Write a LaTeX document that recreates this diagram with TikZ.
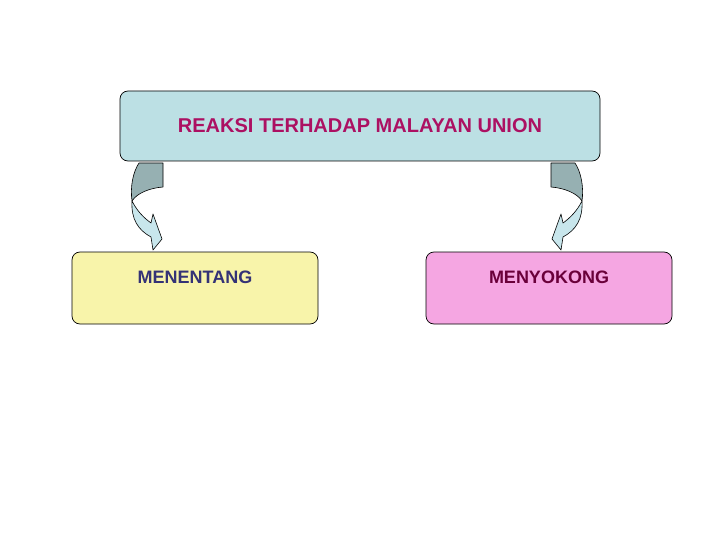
\documentclass[tikz,border=0pt]{standalone}
\usepackage{fontspec}
\setmainfont{Liberation Sans}
\usepackage{tikz}
\definecolor{box_blue}{RGB}{188, 224, 228}
\definecolor{box_yellow}{RGB}{248, 244, 170}
\definecolor{box_pink}{RGB}{245, 166, 226}
\definecolor{txt_red}{RGB}{172, 16, 98}
\definecolor{txt_blue}{RGB}{52, 50, 118}
\definecolor{txt_plum}{RGB}{106, 0, 58}
\definecolor{arr_dark}{RGB}{150, 176, 178}
\definecolor{arr_light}{RGB}{200, 230, 236}
\tikzstyle{box}=[rectangle,rounded corners=8pt,draw=black,
  line width=0.7pt,inner sep=0pt,minimum width=246pt,minimum height=72pt]
\tikzstyle{lbl}=[inner sep=0pt,font=\fontsize{18}{20}\selectfont\bfseries]
\tikzstyle{arrback}=[fill=arr_dark,draw=black,line width=0.6pt,line join=round]
\tikzstyle{arrfront}=[fill=arr_light,draw=black,line width=0.6pt,line join=round]
% bent arrow under the top box, drawn for the left side
\newcommand{\bentarrow}{%
  \draw[style=arrback] (139,163) -- (163,163) -- (163,187)
    .. controls (150,188) and (137,193) .. (132,201)
    .. controls (130,187) and (133,172) .. (139,163) -- cycle;
  \draw[style=arrfront] (132,201) .. controls (137,211) and (144,218) .. (151,223)
    -- (153,214) -- (162,239) -- (153,250) -- (151,237)
    .. controls (138,230) and (131,219) .. (132,201) -- cycle;
}

\begin{document}
\begin{tikzpicture}[x=1pt,y=-1pt]
        \useasboundingbox (0,0) rectangle (720,540);
        \bentarrow
        \begin{scope}[xshift=714pt,xscale=-1]
          \bentarrow
        \end{scope}
        \node [style=box,fill=box_blue,minimum width=480pt,minimum height=70pt,
          text=txt_red,font=\fontsize{20}{22}\selectfont\bfseries] (reaksi) at (360,126) {REAKSI TERHADAP MALAYAN UNION};
        \node [style=box,fill=box_yellow] (kiri) at (195,288) {};
        \node [style=box,fill=box_pink] (kanan) at (549,288) {};
        \node [style=lbl,text=txt_blue] (menentang) at ([yshift=11pt]kiri.center) {MENENTANG};
        \node [style=lbl,text=txt_plum] (menyokong) at ([yshift=11pt]kanan.center) {MENYOKONG};
    \end{tikzpicture}
\end{document}
